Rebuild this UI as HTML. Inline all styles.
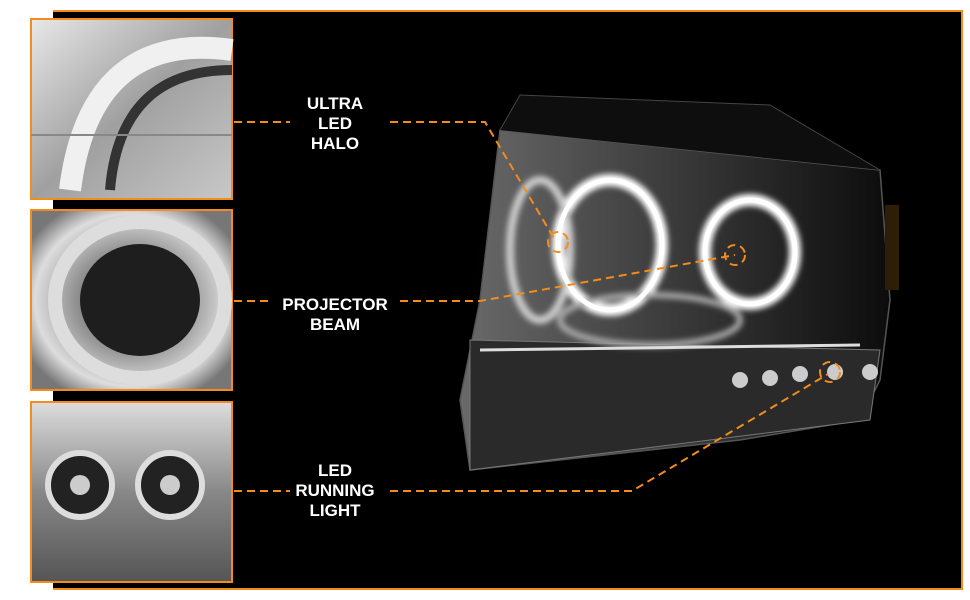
<!DOCTYPE html>
<html><head><style>
html,body{margin:0;padding:0;background:#fff;}
svg{display:block}
text{font-family:"Liberation Sans",sans-serif;font-weight:bold;fill:#fff;font-size:17px;text-anchor:middle}
</style></head><body>
<svg width="970" height="600" viewBox="0 0 970 600" xmlns="http://www.w3.org/2000/svg">
<defs>
<linearGradient id="g1" x1="0" y1="0" x2="1" y2="1"><stop offset="0" stop-color="#e8e8e8"/><stop offset=".5" stop-color="#a0a0a0"/><stop offset="1" stop-color="#c8c8c8"/></linearGradient>
<radialGradient id="g2" cx=".5" cy=".5" r=".6"><stop offset="0" stop-color="#333"/><stop offset=".5" stop-color="#999"/><stop offset=".8" stop-color="#ddd"/><stop offset="1" stop-color="#777"/></radialGradient>
<linearGradient id="g3" x1="0" y1="0" x2="0" y2="1"><stop offset="0" stop-color="#ddd"/><stop offset=".5" stop-color="#888"/><stop offset="1" stop-color="#555"/></linearGradient>
<radialGradient id="glow" cx=".5" cy=".5" r=".5"><stop offset="0" stop-color="#444"/><stop offset="1" stop-color="#000" stop-opacity="0"/></radialGradient>
<linearGradient id="hl" x1="0" y1="0" x2="1" y2="0"><stop offset="0" stop-color="#6a6a6a"/><stop offset=".5" stop-color="#3a3a3a"/><stop offset="1" stop-color="#0c0c0c"/></linearGradient>
<filter id="bl"><feGaussianBlur stdDeviation="3"/></filter>
</defs>
<rect x="53" y="11" width="910" height="579" fill="#000"/>
<path d="M53 11 H962 V589 H53" fill="none" stroke="#f28c1c" stroke-width="2"/>
<!-- headlight -->
<ellipse cx="680" cy="290" rx="230" ry="170" fill="url(#glow)"/>
<path d="M500 130 L880 170 L890 300 L880 380 L860 420 L740 440 L470 470 L460 400 L480 300 Z" fill="url(#hl)" stroke="#555" stroke-width="1.5"/>
<path d="M500 130 L520 95 L770 105 L880 170" fill="#0e0e0e" stroke="#444"/>
<path d="M470 340 L880 350 L870 420 L470 470 Z" fill="#2a2a2a" stroke="#777"/>
<rect x="885" y="205" width="14" height="85" fill="#2e1e06"/>
<g filter="url(#bl)">
<ellipse cx="610" cy="245" rx="52" ry="65" fill="none" stroke="#fff" stroke-width="12"/>
<ellipse cx="750" cy="252" rx="45" ry="52" fill="none" stroke="#fff" stroke-width="12"/>
<ellipse cx="540" cy="250" rx="30" ry="70" fill="none" stroke="#ccc" stroke-width="8"/>
<ellipse cx="650" cy="320" rx="90" ry="25" fill="none" stroke="#aaa" stroke-width="6"/>
</g>
<ellipse cx="610" cy="245" rx="52" ry="65" fill="none" stroke="#fff" stroke-width="5"/>
<ellipse cx="750" cy="252" rx="45" ry="52" fill="none" stroke="#fff" stroke-width="5"/>
<path d="M480 350 L860 345" stroke="#ddd" stroke-width="3"/>
<g fill="#ccc"><circle cx="740" cy="380" r="8"/><circle cx="770" cy="378" r="8"/><circle cx="800" cy="374" r="8"/><circle cx="835" cy="372" r="8"/><circle cx="870" cy="372" r="8"/></g>
<!-- photos -->
<rect x="31" y="19" width="201" height="180" fill="url(#g1)" stroke="#f28c1c" stroke-width="2"/>
<path d="M70 190 Q90 30 232 50" fill="none" stroke="#f0f0f0" stroke-width="22"/>
<path d="M110 190 Q120 70 232 70" fill="none" stroke="#333" stroke-width="10"/>
<path d="M31 135 H232" stroke="#888" stroke-width="2"/>
<rect x="31" y="210" width="201" height="180" fill="url(#g2)" stroke="#f28c1c" stroke-width="2"/>
<ellipse cx="140" cy="300" rx="85" ry="78" fill="none" stroke="#ddd" stroke-width="14"/>
<ellipse cx="140" cy="300" rx="60" ry="56" fill="#1e1e1e"/>
<rect x="31" y="402" width="201" height="180" fill="url(#g3)" stroke="#f28c1c" stroke-width="2"/>
<circle cx="80" cy="485" r="32" fill="#222" stroke="#ddd" stroke-width="6"/>
<circle cx="170" cy="485" r="32" fill="#222" stroke="#ddd" stroke-width="6"/>
<circle cx="80" cy="485" r="10" fill="#ccc"/><circle cx="170" cy="485" r="10" fill="#ccc"/>
<!-- labels -->
<text x="335" y="109">ULTRA</text><text x="335" y="129">LED</text><text x="335" y="149">HALO</text>
<text x="335" y="310">PROJECTOR</text><text x="335" y="330">BEAM</text>
<text x="335" y="476">LED</text><text x="335" y="496">RUNNING</text><text x="335" y="516">LIGHT</text>
<!-- dashed connectors -->
<g fill="none" stroke="#f28c1c" stroke-width="2" stroke-dasharray="8 5">
<path d="M234 122 H290"/><path d="M390 122 H485 L555 240"/>
<path d="M234 301 H270"/><path d="M400 301 H480 L735 255"/>
<path d="M234 491 H290"/><path d="M390 491 H632 L828 374"/>
<circle cx="558" cy="242" r="10"/><circle cx="735" cy="255" r="10"/><circle cx="830" cy="372" r="10"/>
</g>
</svg>
</body></html>
